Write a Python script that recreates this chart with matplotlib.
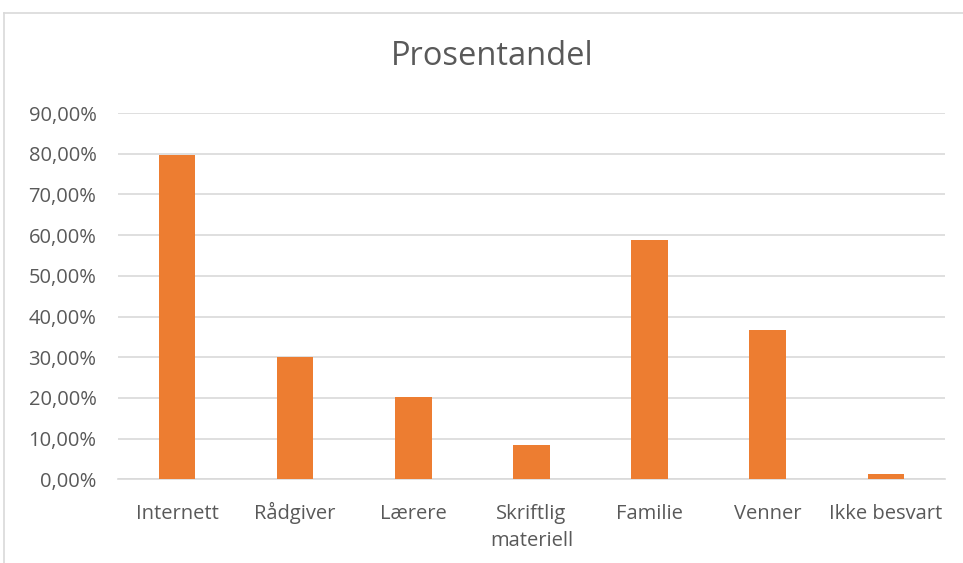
import matplotlib
matplotlib.use('Agg')
import matplotlib.pyplot as plt
from matplotlib.lines import Line2D
from matplotlib.ticker import FuncFormatter

categories = ["Internett", "Rådgiver", "Lærere", "Skriftlig\nmateriell",
              "Familie", "Venner", "Ikke besvart"]
values = [0.797, 0.301, 0.203, 0.084, 0.589, 0.366, 0.012]
yticks = [0.0, 0.1, 0.2, 0.3, 0.4, 0.5, 0.6, 0.7, 0.8, 0.9]

plt.rcParams['font.family'] = ['Open Sans', 'DejaVu Sans']
text_color = '#595959'
grid_color = '#d9d9d9'

fig = plt.figure(figsize=(9.63, 5.63), dpi=100)
ax = fig.add_axes([0.1225, 0.1487, 0.8588, 0.6505])

x = list(range(len(categories)))
ax.bar(x, values, width=0.31, color='#ED7D31', zorder=3)

ax.set_xlim(-0.5, len(categories) - 0.5)
ax.set_ylim(0, 0.9)
ax.set_yticks(yticks)
ax.yaxis.set_major_formatter(FuncFormatter(lambda v, p: f"{v*100:.2f}%".replace('.', ',')))
ax.set_xticks(x)
ax.set_xticklabels([])
ax.tick_params(axis='both', length=0, colors=text_color)
ax.tick_params(axis='y', labelsize=14.5, pad=15.5)

# category labels, each line on a common baseline
for xi, name in zip(x, categories):
    for k, line in enumerate(name.split('\n')):
        ax.text(xi, -0.109 - 0.072 * k, line, transform=ax.get_xaxis_transform(),
                ha='center', va='baseline', fontsize=14.5, color=text_color)

ax.grid(axis='y', color=grid_color, linewidth=1.2, zorder=0)
for s in ['top', 'right', 'left']:
    ax.spines[s].set_visible(False)
ax.spines['bottom'].set_color(grid_color)
ax.spines['bottom'].set_linewidth(1.2)

fig.text(0.511, 0.899, "Prosentandel", ha='center', va='center',
         fontsize=23.5, color=text_color)

# chart frame (left and top edges visible)
fig.add_artist(Line2D([4/963, 4/963], [0, 1 - 13/563], color=grid_color,
                      linewidth=1.2, transform=fig.transFigure))
fig.add_artist(Line2D([4/963, 1], [1 - 13/563, 1 - 13/563], color=grid_color,
                      linewidth=1.2, transform=fig.transFigure))

fig.savefig('out.png', dpi=100)
